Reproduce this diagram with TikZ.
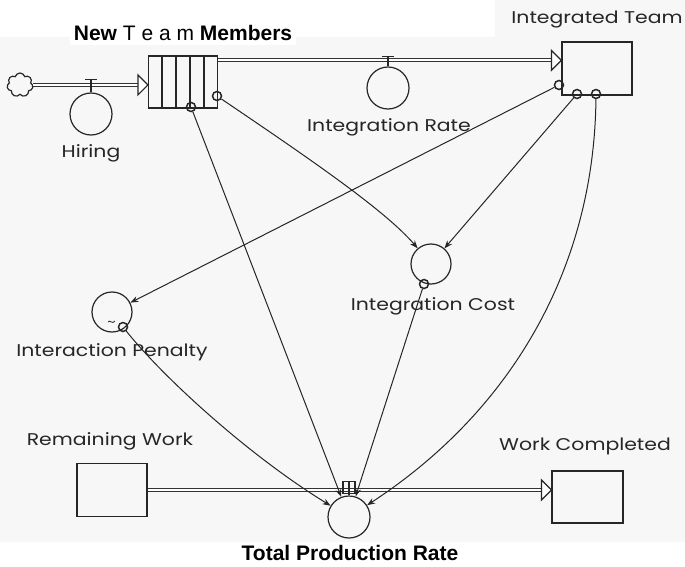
\documentclass[tikz,border=0pt]{standalone}
\usepackage{fontspec}
\newfontfamily\labfont[FakeStretch=1.2]{Poppins}
\newfontfamily\titfont{Liberation Sans}
\usetikzlibrary{shapes.symbols,arrows.meta,calc}
\begin{document}
\begin{tikzpicture}[x=1pt,y=-1pt,
  ink/.style={draw=black!85, line width=1.2pt},
  stock/.style={ink, rectangle, inner sep=0pt},
  aux/.style={ink, circle, minimum size=42pt, inner sep=0pt},
  dot/.style={draw=black!85, line width=1.5pt, circle, minimum size=9pt, inner sep=0pt},
  pipe/.style={draw=black!80, line width=1pt, double=white, double distance=1.8pt},
  link/.style={draw=black!85, line width=1pt, -{Stealth[length=8pt,width=6pt]}},
  lab/.style={font=\labfont\fontsize{17}{19}\selectfont, text=black!85, inner sep=0pt},
  boldlab/.style={font=\titfont\bfseries\fontsize{21}{24}\selectfont, text=black, inner sep=0pt},
]
\fill[black!3] (0,37) -- (495,37) -- (495,0) -- (685,0) -- (685,542) -- (0,542) -- cycle;
\fill[white] (70,0) rectangle (296,45);
\useasboundingbox (0,0) rectangle (685,567);

% stocks
\node[stock, minimum width=69pt, minimum height=52pt] (nm) at (183,82) {};
\foreach \f in {0.2,0.4,0.6,0.8}
  \draw[ink] ($(nm.south west)!\f!(nm.south east)$) -- ($(nm.north west)!\f!(nm.north east)$);
\node[stock, minimum width=70pt, minimum height=53pt] (it) at (597,68.5) {};
\node[stock, minimum width=70pt, minimum height=53pt] (rw) at (112,490) {};
\node[stock, minimum width=71pt, minimum height=52pt] (wc) at (587.5,497) {};

% source cloud
\node[cloud, cloud puffs=7, ink, minimum width=26pt, minimum height=24pt, inner sep=0pt] (src) at (20,85) {};

% auxiliaries / flow circles
\node[aux] (hire) at (91,114) {};
\node[aux] (irate) at (388,88) {};
\node[aux, minimum size=40pt] (icost) at (431,264) {};
\node[aux, minimum size=40pt] (ipen) at (112,312) {};
\node[aux] (tpr) at (349,517) {};
\draw[ink, line width=0.8pt] (108,322) .. controls (110,319) and (112,325) .. (115,321);

% pipes
\coordinate (h1) at (nm.west |- src);
\draw[pipe] (src) -- ($(h1)+(-10,0)$);
\draw[ink, fill=white] (h1) -- ++(-10,-10) -- ++(0,20) -- cycle;
\coordinate (h2) at ($(nm.north east)+(0,5)$);
\coordinate (h3) at (h2 -| it.west);
\draw[pipe] (h2) -- ($(h3)+(-10,0)$);
\draw[ink, fill=white] (h3) -- ++(-10,-10) -- ++(0,20) -- cycle;
\coordinate (h4) at (rw.east);
\coordinate (h5) at (h4 -| wc.west);
\draw[pipe] (h4) -- ($(h5)+(-10,0)$);
\draw[ink, fill=white] (h5) -- ++(-10,-10) -- ++(0,20) -- cycle;

% valves
\draw[ink] (hire.north) -- ++(0,-13) ++(-6,0) -- ++(12,0);
\draw[ink] (irate.north) -- ++(0,-10) ++(-6,0) -- ++(12,0);
\draw[ink] (tpr.north) -- ++(0,-14);
\draw[ink] ($(tpr.north)+(-6,-14)$) rectangle ($(tpr.north)+(6,-2)$);

% connector origins
\node[dot] (o1) at (191,107) {};
\node[dot] (o2) at (217,96) {};
\node[dot] (o3) at (559,85) {};
\node[dot] (o4) at (577,94) {};
\node[dot] (o5) at (596,94) {};
\node[dot] (o6) at (424,284) {};
\node[dot] (o7) at (123,327) {};

% connectors
\draw[link] (o1) -- (tpr);
\draw[link] (o2) .. controls +(90,61) and +(-46,-54) .. (icost);
\draw[link] (o3) -- (ipen);
\draw[link] (o4) -- (icost);
\draw[link] (o5) .. controls +(-2,176) and +(161,-105) .. (tpr);
\draw[link] (o6) -- (tpr);
\draw[link] (o7) .. controls +(40,50) and +(-101,-62) .. (tpr);

% labels
\node[boldlab] (tnm) at (183,33) {New {\mdseries T e a m} Members};
\node[lab] (lit) at (597,20) {Integrated Team};
\node[lab] (lhire) at (91,153) {Hiring};
\node[lab] (lir) at (389,127) {Integration Rate};
\node[lab] (lic) at (433,306) {Integration Cost};
\node[lab] (lip) at (112,352) {Interaction Penalty};
\node[lab] (lrw) at (110,441) {Remaining Work};
\node[lab] (lwc) at (585,446) {Work Completed};
\node[boldlab] (ltpr) at (350,553) {Total Production Rate};
\end{tikzpicture}
\end{document}
